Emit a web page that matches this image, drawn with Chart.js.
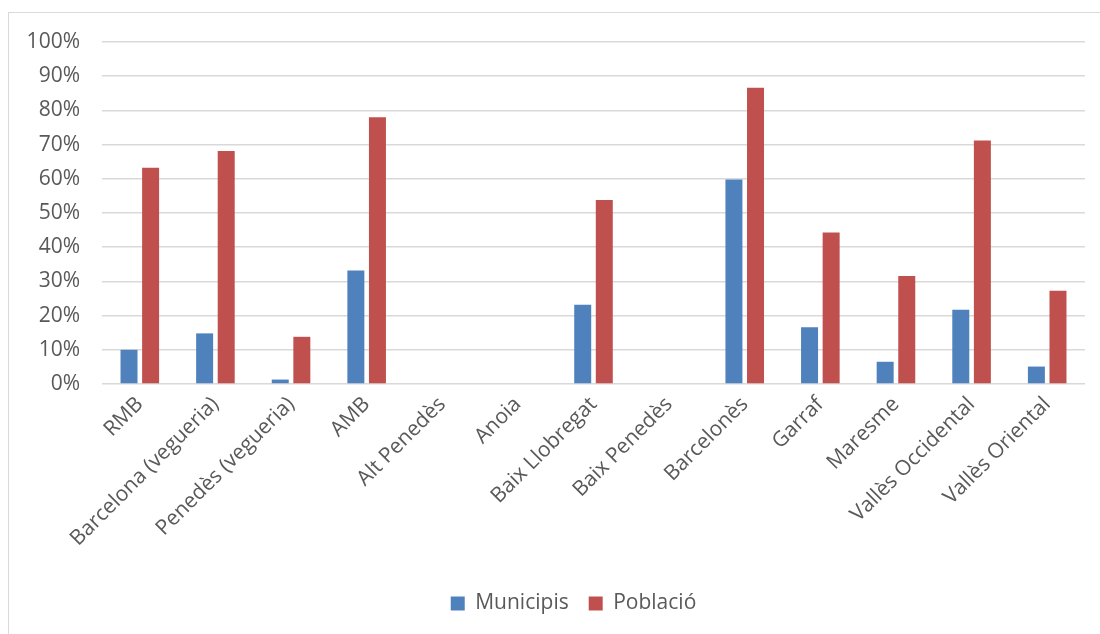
<!DOCTYPE html>
<html>
<head>
<meta charset="utf-8">
<script src="https://cdn.jsdelivr.net/npm/chart.js@4/dist/chart.umd.min.js"></script>
<style>
  html, body { margin: 0; padding: 0; background: #ffffff; }
  #wrap { position: relative; width: 1100px; height: 634px; overflow: hidden; }
  #frame { position: absolute; left: 8px; top: 12px; width: 1200px; height: 700px;
           border-left: 1.5px solid #d9d9d9; border-top: 1.5px solid #d9d9d9; box-sizing: border-box; }
  canvas { position: absolute; left: 0; top: 0; }
</style>
</head>
<body>
<div id="wrap">
  <div id="frame"></div>
  <canvas id="c" width="1100" height="634"></canvas>
</div>
<script>
const categories = ["RMB", "Barcelona (vegueria)", "Penedès (vegueria)", "AMB", "Alt Penedès", "Anoia",
  "Baix Llobregat", "Baix Penedès", "Barcelonès", "Garraf", "Maresme", "Vallès Occidental", "Vallès Oriental"];
const municipis = [10.0, 14.8, 1.3, 33.2, 0, 0, 23.2, 0, 59.8, 16.6, 6.5, 21.7, 5.1];
const poblacio  = [63.2, 68.1, 13.8, 78.0, 0, 0, 53.8, 0, 86.6, 44.3, 31.6, 71.2, 27.3];
const yTicks = [0, 10, 20, 30, 40, 50, 60, 70, 80, 90, 100];

const FONT = "'Open Sans', Lato, sans-serif";
const TXT = "#595959";

const shiftLegend = {
  id: "shiftLegend",
  afterLayout(chart) {
    const l = chart.legend;
    if (l) { l.left += 31; l.right += 31; }
  }
};

new Chart(document.getElementById("c"), {
  type: "bar",
  data: {
    labels: categories,
    datasets: [
      { label: "Municipis", data: municipis, backgroundColor: "#4F81BD",
        categoryPercentage: 0.571, barPercentage: 0.787 },
      { label: "Població", data: poblacio, backgroundColor: "#C0504D",
        categoryPercentage: 0.571, barPercentage: 0.787 }
    ]
  },
  plugins: [shiftLegend],
  options: {
    responsive: false,
    animation: false,
    layout: { padding: { left: 0, right: 15, top: 42, bottom: 10 } },
    plugins: {
      tooltip: { enabled: false },
      legend: {
        position: "bottom",
        labels: {
          font: { family: FONT, size: 21 },
          color: TXT,
          boxWidth: 14,
          boxHeight: 14,
          padding: 20
        }
      }
    },
    scales: {
      x: {
        grid: { display: false, drawTicks: false },
        border: { display: false },
        ticks: {
          font: { family: FONT, size: 21 },
          color: TXT,
          minRotation: 45,
          maxRotation: 45,
          autoSkip: false,
          padding: 8
        },
        afterFit: (s) => { s.height = 189; }
      },
      y: {
        min: 0, max: 100,
        afterBuildTicks: (s) => { s.ticks = yTicks.map(v => ({ value: v })); },
        grid: { color: "#d9d9d9", lineWidth: 1.5, drawTicks: false },
        border: { display: false },
        ticks: {
          font: { family: FONT, size: 21 },
          color: TXT,
          padding: 22,
          callback: (v) => v + "%"
        },
        afterFit: (s) => { s.width = 102; }
      }
    }
  }
});
</script>
</body>
</html>
